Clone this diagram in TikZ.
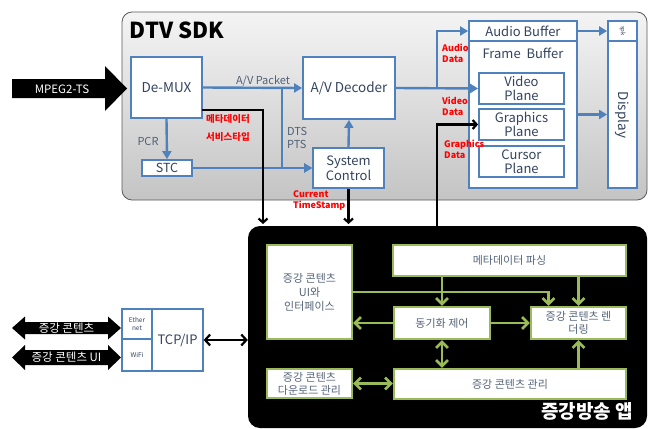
\documentclass[tikz,border=0pt]{standalone}
\usepackage{fontspec}
\setmainfont{Noto Sans CJK KR}
\usetikzlibrary{arrows.meta,calc}
\definecolor{SdkBlue}{HTML}{4F81BD}
\definecolor{SdkInk}{HTML}{34445E}
\definecolor{SdkTop}{HTML}{F4F4F4}
\definecolor{SdkBottom}{HTML}{C4C4C4}
\definecolor{AppGreen}{HTML}{9BBB59}
\definecolor{AppInk}{HTML}{56657A}
\definecolor{DataRed}{HTML}{FF0000}
\tikzset{
    sdkblock/.style={
        draw=SdkBlue, fill=white, line width=1.8pt,
        text=SdkInk, align=center, inner sep=1pt,
        font=\fontsize{13.5}{15}\selectfont
    },
    appblock/.style={
        draw=AppGreen, fill=white, line width=2.2pt,
        text=AppInk, align=center, inner sep=1pt,
        font=\fontsize{11}{14}\selectfont
    },
    sdkarrow/.style={
        -{Triangle[length=8pt,width=9pt]}, line width=2.4pt, draw=SdkBlue
    },
    apparrow/.style={
        -{Straight Barb[length=6pt,width=12pt]}, line width=2.6pt, draw=AppGreen
    },
    appboth/.style={
        {Straight Barb[length=6pt,width=12pt]}-{Straight Barb[length=6pt,width=12pt]},
        line width=2.6pt, draw=AppGreen
    },
    blkarrow/.style={
        -{Straight Barb[length=4pt,width=9pt]}, line width=2.2pt
    },
    datalabel/.style={
        text=DataRed, align=left, inner sep=0pt,
        font=\fontsize{9}{11}\selectfont\bfseries
    },
    flowlabel/.style={
        text=SdkInk!85, align=left, inner sep=0pt,
        font=\fontsize{11}{13}\selectfont
    },
}

\begin{document}
\begin{tikzpicture}[x=1pt, y=-1pt]
    \useasboundingbox (0,0) rectangle (655,428);

    % SDK frame
    \node[draw=black!65, line width=0.8pt, rounded corners=10pt,
          top color=SdkTop, bottom color=SdkBottom,
          minimum width=525, minimum height=188, inner sep=0pt] (sdk) at (384.5,106) {};
    \node[font=\fontsize{22}{24}\selectfont\bfseries, inner sep=0pt] (sdktitle) at (177,30) {DTV SDK};

    % App frame
    \node[fill=black, rounded corners=12pt,
          minimum width=399, minimum height=202, inner sep=0pt] (app) at (447.5,327) {};
    \node[text=white, font=\fontsize{19}{21}\selectfont\bfseries, inner sep=0pt] (apptitle) at (587,411) {증강방송 앱};

    % Transport stream input
    \fill (12,79) -- (105,79) -- (105,66) -- (127,88.5) -- (105,111) -- (105,98) -- (12,98) -- cycle;
    \node[text=white, font=\fontsize{11.5}{13}\selectfont, inner sep=0pt] (tsin) at (62,89) {MPEG2-TS};

    % SDK blocks
    \node[sdkblock, minimum width=71, minimum height=61] (demux) at (166.5,87.5) {De-MUX};
    \node[sdkblock, minimum width=50, minimum height=16, font=\fontsize{12.5}{14}\selectfont] (stc) at (167,168) {STC};
    \node[sdkblock, minimum width=92, minimum height=62] (avdec) at (349,88) {A/V Decoder};
    \node[sdkblock, minimum width=71, minimum height=40, font=\fontsize{13}{15}\selectfont] (sysctl) at (348.5,168) {System\\Control};

    % Buffers and planes
    \node[sdkblock, minimum width=108, minimum height=20, font=\fontsize{13}{14}\selectfont] (audbuf) at (523,31) {Audio Buffer};
    \node[sdkblock, minimum width=108, minimum height=147] (frmbuf) at (523,114.5) {};
    \node[text=SdkInk, font=\fontsize{13}{14}\selectfont, inner sep=0pt] (frmtitle) at (523,53) {Frame~~Buffer};
    \node[sdkblock, minimum width=85, minimum height=31, font=\fontsize{13}{14.5}\selectfont] (vidpl) at (521.5,88.5) {Video\\Plane};
    \node[sdkblock, minimum width=85, minimum height=31, font=\fontsize{13}{14.5}\selectfont] (gfxpl) at (521.5,124.5) {Graphics\\Plane};
    \node[sdkblock, minimum width=85, minimum height=31, font=\fontsize{13}{14.5}\selectfont] (curpl) at (521.5,161.5) {Cursor\\Plane};

    % Output devices
    \node[sdkblock, minimum width=29, minimum height=20] (spk) at (622.5,31) {};
    \node[text=SdkInk, rotate=-90, font=\fontsize{6}{7}\selectfont, inner sep=0pt] (spktext) at (622.5,31) {spk};
    \node[sdkblock, minimum width=29, minimum height=147] (display) at (622.5,114.5) {};
    \node[text=SdkInk, rotate=-90, font=\fontsize{13.5}{15}\selectfont, inner sep=0pt] (disptext) at (622.5,115) {Display};

    % SDK flows
    \coordinate (pktsplit) at (282,88);
    \coordinate (decsplit) at (437,88);
    \draw[sdkarrow] (demux.east) -- (avdec.west);
    \draw[sdkarrow] (pktsplit) |- (sysctl.west);
    \draw[sdkarrow] (stc.east) -- (sysctl.west);
    \draw[sdkarrow] (demux.south) -- (stc.north);
    \draw[sdkarrow] (sysctl.north) -- (avdec.south);
    \draw[sdkarrow] (avdec.east) -- (vidpl.west);
    \draw[sdkarrow] (decsplit) |- (audbuf.west);
    \draw[sdkarrow] (audbuf.east) -- (spk.west);
    \draw[sdkarrow] (frmbuf.east) -- (display.west);

    \node[flowlabel] (pktlabel) at (263,81) {A/V Packet};
    \node[flowlabel, anchor=west] (tslabel) at (287,137.5) {DTS\\PTS};
    \node[flowlabel] (pcrlabel) at (148,141) {PCR};

    % SDK to app links
    \coordinate (metaout) at (202,110);
    \coordinate (metadrop) at (263,224);
    \coordinate (gfxrise) at (437,226);
    \draw[blkarrow] (metaout) -| (metadrop);
    \draw[blkarrow] (sysctl.south) -- (sysctl.south |- metadrop);
    \draw[blkarrow] (gfxrise) |- (gfxpl.west);

    % Data labels
    \node[datalabel, font=\fontsize{9.5}{18}\selectfont\bfseries] (metalabel) at (228,128) {메타데이터\\서비스타입};
    \node[datalabel, anchor=west] (audlabel) at (442,53.5) {Audio\\Data};
    \node[datalabel, anchor=west] (vidlabel) at (442,106.5) {Video\\Data};
    \node[datalabel, anchor=west] (gfxlabel) at (444,149.5) {Graphics\\Data};
    \node[datalabel, anchor=west] (tstamp) at (293,201) {Current\\TimeStamp};

    % App blocks
    \node[appblock, minimum width=85, minimum height=94] (uibox) at (309.5,292) {증강 콘텐츠\\UI와\\인터페이스};
    \node[appblock, minimum width=85, minimum height=29, font=\fontsize{11}{13}\selectfont] (dlbox) at (309.5,383.5) {증강 콘텐츠\\다운로드 관리};
    \node[appblock, minimum width=233, minimum height=31] (meta) at (509.5,260.5) {메타데이터 파싱};
    \node[appblock, minimum width=96, minimum height=32] (sync) at (442,323) {동기화 제어};
    \node[appblock, minimum width=95, minimum height=32, font=\fontsize{11}{13}\selectfont] (render) at (578.5,323) {증강 콘텐츠 렌\\더링};
    \node[appblock, minimum width=232, minimum height=30] (mgmt) at (510,384) {증강 콘텐츠 관리};

    % App flows
    \draw[apparrow] (meta.south -| sync.north) -- (sync.north);
    \draw[apparrow] (meta.south -| render.north) -- (render.north);
    \draw[apparrow] (uibox.east) -| ($(render.north)+(-30,0)$);
    \draw[apparrow] (sync.west) -- (sync.west -| uibox.east);
    \draw[apparrow] (sync.east) -- (render.west);
    \draw[appboth] (sync.south) -- (sync.south |- mgmt.north);
    \draw[apparrow] (mgmt.north -| render.south) -- (render.south);
    \draw[appboth] (dlbox.east) -- (dlbox.east -| mgmt.west);

    % Network side
    \node[draw=SdkBlue, fill=white, line width=1.3pt, minimum width=30, minimum height=30, inner sep=0pt,
          text=SdkInk, align=center, font=\fontsize{6.5}{7.5}\selectfont] (ether) at (137,324) {Ether\\net};
    \node[draw=SdkBlue, fill=white, line width=1.3pt, minimum width=30, minimum height=32, inner sep=0pt,
          text=SdkInk, font=\fontsize{6.5}{7.5}\selectfont] (wifi) at (137,355) {WiFi};
    \node[draw=SdkBlue, fill=white, line width=1.3pt, minimum width=51, minimum height=62, inner sep=0pt,
          text=SdkInk, font=\fontsize{13}{14}\selectfont] (tcp) at (177.5,340) {TCP/IP};
    \draw[blkarrow, {Straight Barb[length=5pt,width=11pt]}-{Straight Barb[length=5pt,width=11pt]}]
        (tcp.east) -- (tcp.east -| app.west);

    % Content links
    \fill (12,328) -- (25,316.5) -- (25,322) -- (108,322) -- (108,316.5) -- (121,328)
        -- (108,339.5) -- (108,334) -- (25,334) -- (25,339.5) -- cycle;
    \node[text=white, font=\fontsize{11.5}{13}\selectfont, inner sep=0pt] (contlink) at (66.5,328) {증강 콘텐츠};
    \fill (12,357.5) -- (25,345) -- (25,350) -- (108,350) -- (108,345) -- (121,357.5)
        -- (108,370) -- (108,365) -- (25,365) -- (25,370) -- cycle;
    \node[text=white, font=\fontsize{11.5}{13}\selectfont, inner sep=0pt] (uilink) at (66.5,357.5) {증강 콘텐츠 UI};
\end{tikzpicture}
\end{document}
